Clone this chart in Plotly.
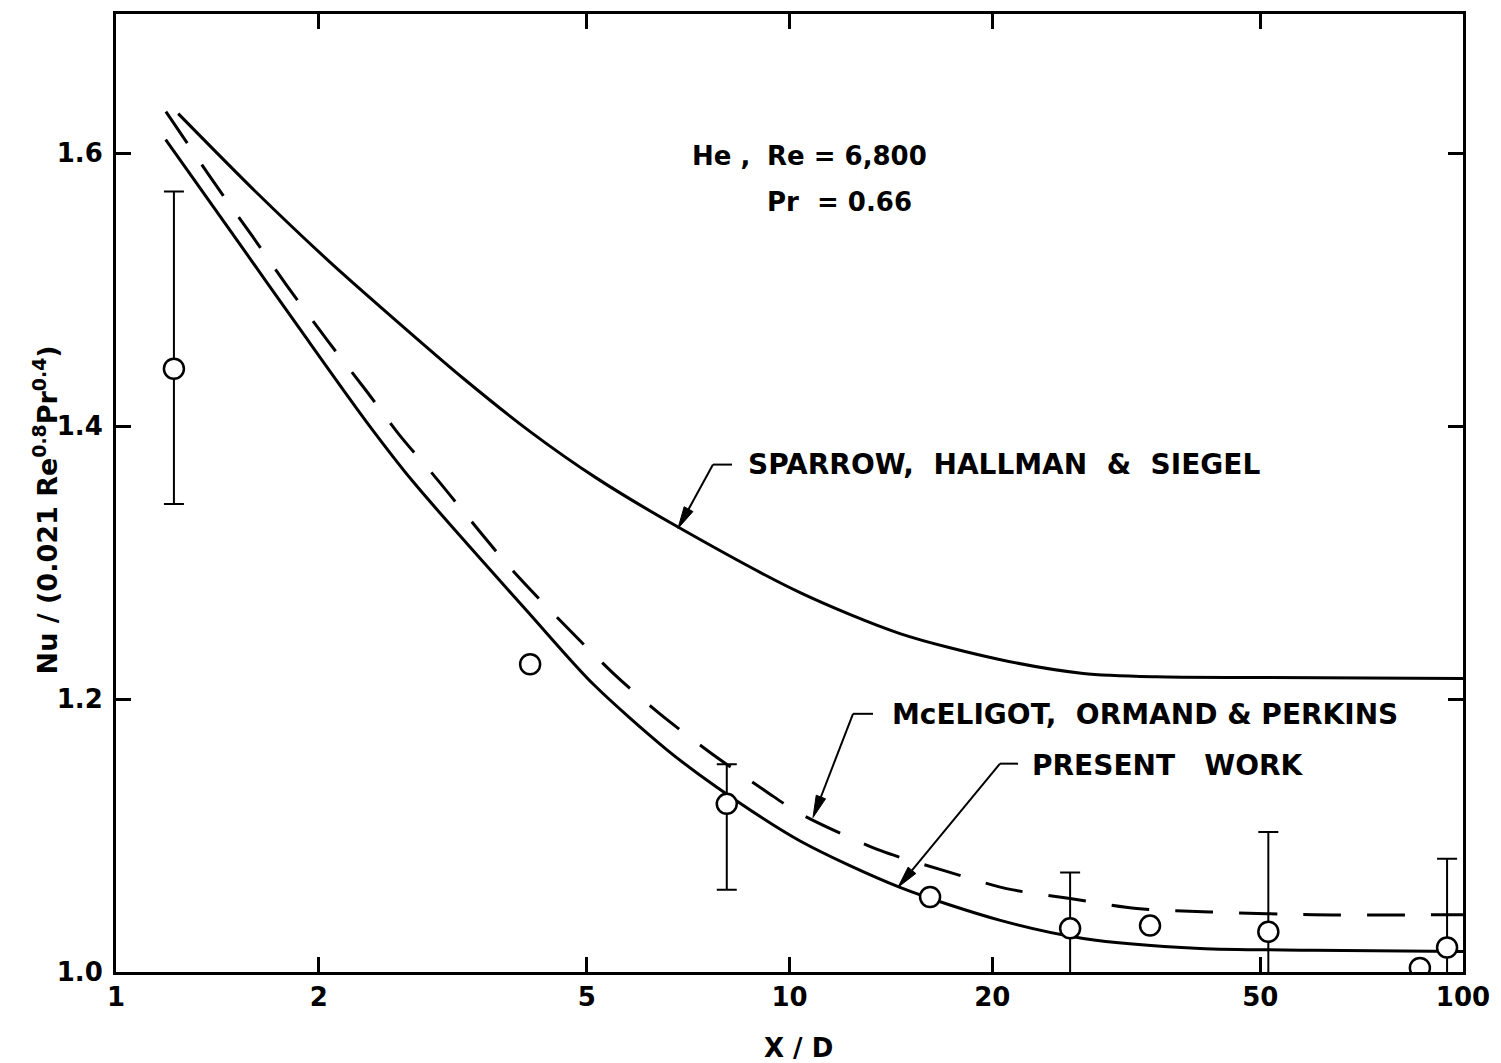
import math
import plotly.graph_objects as go

# ---------------- data ----------------
x_tick_vals = [1, 2, 5, 10, 20, 50, 100]
x_tick_labels = ["1", "2", "5", "10", "20", "50", "100"]
y_tick_vals = [1.0, 1.2, 1.4, 1.6]
y_tick_labels = ["1.0", "1.2", "1.4", "1.6"]

# Sparrow, Hallman & Siegel (upper solid curve)
sparrow_x = [1.237, 1.618, 2.078, 2.552, 3.28, 4.12, 5.17, 6.80, 10.37, 14.59, 20.5, 27.3, 35, 50, 100]
sparrow_y = [1.629, 1.571, 1.5202, 1.4812, 1.4349, 1.396, 1.3619, 1.3266, 1.278, 1.248, 1.229, 1.2188,
             1.2163, 1.2158, 1.215]

# McEligot, Ormand & Perkins (dashed curve)
mceligot_x = [1.186, 1.398, 1.591, 1.807, 2.072, 2.348, 2.64, 2.96, 3.89, 5.46, 6.40, 7.64, 9.22,
              10.37, 13.63, 16.92, 21.0, 26.1, 32.8, 42.1, 60, 100]
mceligot_y = [1.6305, 1.5786, 1.5397, 1.5007, 1.4612, 1.4265, 1.393, 1.3643, 1.2937, 1.2194, 1.1897,
              1.1605, 1.1325, 1.116, 1.0891, 1.0745, 1.0611, 1.0538, 1.0465, 1.044, 1.042, 1.042]

# Present work (lower solid curve)
present_x = [1.185, 1.494, 1.876, 2.356, 2.764, 4.12, 5.11, 6.57, 7.80, 10.37, 14.59, 20.5,
             27.3, 40.7, 60, 100]
present_y = [1.610, 1.540, 1.471, 1.403, 1.359, 1.262, 1.211, 1.163, 1.1354, 1.096, 1.062,
             1.038, 1.0246, 1.0173, 1.016, 1.015]

# Experimental points
pts_x = [1.219, 4.12, 8.07, 16.17, 26.1, 34.3, 51.4, 86.3, 94.7]
pts_y = [1.442, 1.2255, 1.1232, 1.055, 1.032, 1.034, 1.0295, 1.003, 1.018]
err_plus = [0.130, None, 0.029, None, 0.041, None, 0.073, None, 0.065]
err_minus = [0.099, None, 0.063, None, 0.041, None, 0.073, None, 0.065]

# ---------------- figure ----------------
FONT = "DejaVu Sans"
W, H = 1501, 1063
L, R, T, B = 116, 38, 11, 91
PW, PH = W - L - R, H - T - B


def px(xp):
    return (xp - L) / PW


def py(yp):
    return (H - B - yp) / PH


fig = go.Figure()

fig.add_trace(go.Scatter(x=sparrow_x, y=sparrow_y, mode="lines",
                         line=dict(color="black", width=3, shape="spline", smoothing=0.8)))
fig.add_trace(go.Scatter(x=mceligot_x, y=mceligot_y, mode="lines",
                         line=dict(color="black", width=3, dash="38px,26px", shape="spline", smoothing=0.8)))
fig.add_trace(go.Scatter(x=present_x, y=present_y, mode="lines",
                         line=dict(color="black", width=3, shape="spline", smoothing=0.8)))

marker = dict(symbol="circle", size=20, color="white", line=dict(color="black", width=2.5))
ei = [i for i, e in enumerate(err_plus) if e is not None]
ni = [i for i, e in enumerate(err_plus) if e is None]
fig.add_trace(go.Scatter(
    x=[pts_x[i] for i in ei], y=[pts_y[i] for i in ei], mode="markers", marker=marker,
    error_y=dict(type="data", symmetric=False, array=[err_plus[i] for i in ei],
                 arrayminus=[err_minus[i] for i in ei], color="black", thickness=2, width=10)))
fig.add_trace(go.Scatter(x=[pts_x[i] for i in ni], y=[pts_y[i] for i in ni], mode="markers", marker=marker))

axis_common = dict(showgrid=False, zeroline=False, showline=True, linecolor="black", linewidth=3,
                   mirror="allticks", ticks="inside", ticklen=15, tickwidth=2.5, tickcolor="black",
                   tickfont=dict(family=FONT, size=26, color="black", weight="bold"))

fig.update_layout(
    width=W, height=H,
    margin=dict(l=L, r=R, t=T, b=B, pad=0),
    paper_bgcolor="white", plot_bgcolor="white",
    showlegend=False,
    font=dict(family=FONT, color="black"),
    xaxis=dict(type="log", range=[0, 2], tickvals=x_tick_vals, ticktext=x_tick_labels,
               ticklabelstandoff=0, **axis_common),
    yaxis=dict(range=[1.0, 1.702], tickvals=y_tick_vals, ticktext=y_tick_labels,
               ticklabelstandoff=5, **axis_common),
)

txt = dict(family=FONT, size=28, color="black", weight="bold")
ann = []


def label(xp, yp, text, size=28, **kw):
    ann.append(dict(xref="paper", yref="paper", x=px(xp), y=py(yp), text=text, showarrow=False,
                    xanchor="left", yanchor="middle", font=dict(txt, size=size), **kw))


def seg(p0, p1, w=2):
    fig.add_shape(type="line", xref="paper", yref="paper", x0=px(p0[0]), y0=py(p0[1]),
                  x1=px(p1[0]), y1=py(p1[1]), line=dict(color="black", width=w))


def leader(tip, corner, end, head_len=22, head_hw=5):
    # horizontal tick + diagonal line ending in a long narrow filled arrowhead
    seg(corner, end)
    dx, dy = tip[0] - corner[0], tip[1] - corner[1]
    n = math.hypot(dx, dy)
    ux, uy = dx / n, dy / n
    bx, by = tip[0] - ux * head_len, tip[1] - uy * head_len
    seg(corner, (bx, by))
    p1 = (bx - uy * head_hw, by + ux * head_hw)
    p2 = (bx + uy * head_hw, by - ux * head_hw)
    path = "M {:.5f},{:.5f} L {:.5f},{:.5f} L {:.5f},{:.5f} Z".format(
        px(tip[0]), py(tip[1]), px(p1[0]), py(p1[1]), px(p2[0]), py(p2[1]))
    fig.add_shape(type="path", xref="paper", yref="paper", path=path,
                  fillcolor="black", line=dict(color="black", width=1))


label(690, 153, "He ,", size=26)
label(765, 153, "Re = 6,800", size=26)
label(765, 200, "Pr  = 0.66", size=26)
label(746, 463, "SPARROW,  HALLMAN  &  SIEGEL")
label(890, 714, "McELIGOT,  ORMAND & PERKINS")
label(1030, 765, "PRESENT   WORK")

leader((678, 527), (713, 463), (732, 463))
leader((813, 817), (853, 713), (873, 713))
leader((898, 887), (1000, 763), (1018, 763))

# axis titles
ann.append(dict(xref="paper", yref="paper", x=px(798), y=py(1048), text="X / D", showarrow=False,
                xanchor="center", yanchor="middle", font=dict(txt, size=26)))
ann.append(dict(xref="paper", yref="paper", x=px(45), y=py(509),
                text="Nu / (0.021 Re<sup>0.8</sup>Pr<sup>0.4</sup>)", showarrow=False, textangle=-90,
                xanchor="center", yanchor="middle", font=dict(txt, size=27)))

fig.update_layout(annotations=ann)
fig.write_html("out.html", config={"displayModeBar": False},
               post_script="document.body.style.margin='0px';")
